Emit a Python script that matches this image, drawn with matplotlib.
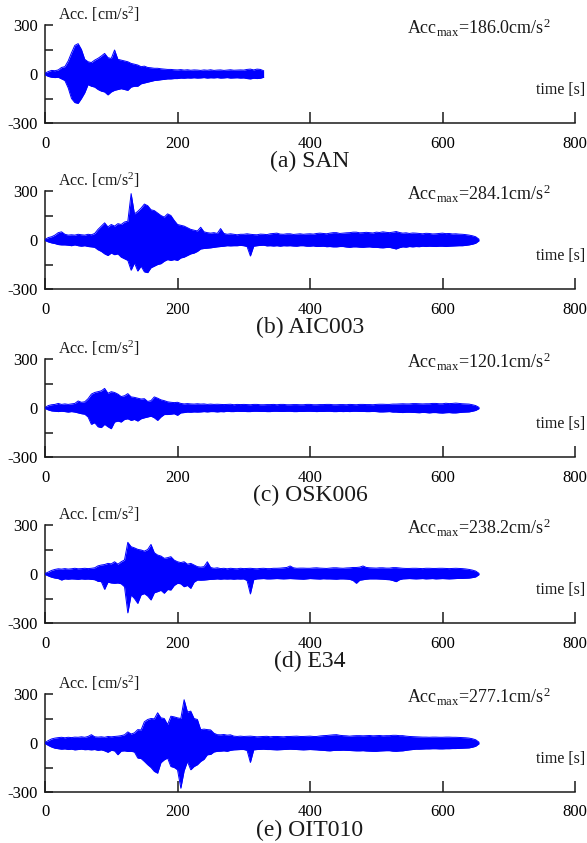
import numpy as np
import matplotlib
matplotlib.use("Agg")
import matplotlib.pyplot as plt

plt.rcParams["font.family"] = ["Liberation Serif", "DejaVu Serif"]
plt.rcParams["mathtext.fontset"] = "custom"
plt.rcParams["mathtext.rm"] = "Liberation Serif"
plt.rcParams["mathtext.it"] = "Liberation Serif:italic"
plt.rcParams["axes.unicode_minus"] = False

BLUE = "#0000ff"
INK = "#1a1a1a"

# ---- dados: picos positivos / negativos (cm/s2) a cada 5 s ----
T_SAN = np.arange(0, 331, 5)          # SAN termina em ~330 s
T_LONG = np.arange(0, 656, 5)         # demais estacoes terminam em ~655 s

SAN_UP = [5, 15, 22, 20, 25, 40, 45, 80, 130, 175,
          186, 150, 90, 75, 70, 85, 96, 110, 126, 100,
          95, 147, 90, 85, 80, 75, 65, 60, 55, 45,
          48, 40, 38, 35, 35, 32, 30, 28, 28, 26,
          25, 27, 24, 26, 23, 25, 24, 22, 25, 23,
          26, 22, 24, 25, 22, 24, 26, 23, 24, 25,
          24, 28, 30, 25, 30, 28, 20]
SAN_LO = [-5, -15, -20, -22, -20, -30, -40, -85, -150, -175,
          -180, -150, -115, -65, -75, -80, -95, -105, -110, -128,
          -110, -100, -95, -90, -95, -100, -80, -75, -75, -60,
          -55, -50, -45, -40, -38, -35, -33, -30, -30, -28,
          -28, -25, -26, -24, -25, -23, -25, -24, -22, -25,
          -23, -24, -22, -25, -24, -22, -25, -24, -23, -25,
          -24, -28, -30, -26, -28, -26, -20]

AIC_UP = [3, 15, 20, 30, 45, 50, 35, 30, 32, 30,
          35, 32, 30, 35, 32, 40, 65, 85, 105, 80,
          95, 85, 100, 95, 110, 115, 284, 160, 175, 195,
          220, 210, 185, 180, 165, 150, 140, 160, 150, 120,
          95, 90, 85, 75, 65, 60, 55, 78, 50, 45,
          42, 45, 40, 70, 40, 35, 38, 35, 32, 35,
          35, 38, 35, 33, 32, 36, 35, 33, 38, 40,
          42, 36, 35, 38, 38, 34, 36, 38, 35, 37,
          38, 36, 40, 42, 40, 38, 42, 45, 45, 40,
          42, 44, 45, 48, 48, 44, 45, 47, 45, 43,
          48, 46, 50, 47, 45, 48, 52, 46, 42, 44,
          40, 43, 42, 40, 38, 41, 40, 37, 38, 40,
          42, 39, 40, 37, 38, 36, 35, 33, 30, 26, 20, 5]
AIC_LO = [-3, -12, -18, -22, -28, -30, -30, -32, -35, -30,
          -35, -38, -35, -40, -42, -45, -60, -70, -85, -95,
          -80, -90, -85, -105, -115, -125, -185, -140, -190, -160,
          -195, -200, -170, -160, -150, -145, -130, -120, -125, -120,
          -125, -110, -105, -95, -85, -80, -70, -55, -52, -50,
          -48, -45, -42, -40, -38, -35, -36, -35, -35, -33,
          -35, -40, -98, -38, -35, -33, -32, -36, -35, -37,
          -35, -38, -35, -36, -35, -37, -38, -35, -35, -38,
          -38, -36, -40, -39, -38, -41, -40, -42, -42, -40,
          -40, -43, -45, -42, -42, -44, -45, -43, -42, -45,
          -45, -47, -48, -46, -45, -50, -55, -47, -42, -44,
          -40, -42, -40, -41, -38, -40, -38, -39, -40, -38,
          -38, -40, -38, -37, -36, -35, -35, -33, -30, -26, -20, -5]

OSK_UP = [3, 15, 20, 22, 28, 22, 25, 22, 25, 28,
          43, 35, 38, 57, 85, 95, 100, 105, 120, 90,
          100, 95, 85, 70, 75, 88, 68, 65, 60, 55,
          57, 40, 45, 68, 60, 50, 45, 38, 35, 33,
          35, 28, 25, 27, 25, 24, 26, 24, 25, 22,
          24, 22, 23, 22, 21, 22, 23, 20, 22, 21,
          22, 21, 20, 22, 22, 20, 20, 21, 21, 22,
          20, 22, 22, 20, 20, 21, 21, 20, 20, 22,
          22, 20, 20, 21, 21, 22, 22, 20, 20, 21,
          21, 20, 22, 21, 20, 22, 22, 21, 21, 20,
          22, 23, 23, 22, 22, 24, 24, 25, 26, 25,
          25, 27, 27, 26, 25, 26, 26, 28, 28, 26,
          26, 29, 27, 28, 30, 28, 26, 25, 24, 20, 15, 4]
OSK_LO = [-3, -12, -18, -20, -22, -20, -22, -25, -22, -25,
          -30, -35, -38, -55, -100, -90, -115, -120, -100, -115,
          -127, -86, -80, -86, -70, -66, -76, -70, -80, -66,
          -60, -55, -50, -60, -76, -55, -40, -40, -38, -35,
          -45, -30, -28, -25, -26, -24, -25, -24, -22, -24,
          -22, -22, -24, -22, -23, -20, -22, -22, -20, -21,
          -21, -22, -22, -20, -20, -21, -21, -22, -22, -20,
          -20, -21, -21, -20, -20, -22, -22, -21, -21, -20,
          -20, -21, -22, -21, -21, -20, -20, -22, -22, -21,
          -22, -21, -22, -20, -20, -21, -21, -22, -22, -21,
          -22, -24, -24, -23, -22, -25, -25, -27, -28, -26,
          -26, -27, -28, -29, -27, -28, -30, -28, -28, -30,
          -31, -29, -28, -30, -30, -28, -26, -25, -24, -20, -15, -4]

E34_UP = [3, 12, 22, 28, 32, 30, 33, 30, 32, 35,
          32, 33, 35, 33, 35, 38, 50, 55, 58, 65,
          62, 75, 60, 75, 86, 194, 167, 160, 151, 147,
          140, 150, 181, 130, 116, 110, 96, 100, 106, 85,
          75, 70, 75, 60, 65, 55, 45, 42, 45, 75,
          40, 35, 38, 33, 35, 32, 35, 33, 32, 35,
          33, 34, 35, 33, 32, 34, 35, 33, 33, 35,
          35, 36, 38, 40, 49, 38, 35, 36, 36, 35,
          35, 37, 38, 36, 35, 34, 36, 38, 38, 36,
          35, 37, 38, 40, 40, 42, 49, 40, 38, 37,
          36, 38, 38, 36, 36, 39, 39, 37, 35, 34,
          34, 35, 35, 34, 33, 35, 35, 34, 34, 35,
          35, 34, 33, 34, 35, 34, 33, 31, 28, 24, 18, 4]
E34_LO = [-3, -12, -20, -25, -28, -37, -30, -32, -30, -31,
          -33, -30, -32, -31, -33, -35, -45, -47, -94, -50,
          -55, -57, -55, -60, -78, -238, -128, -150, -180, -128,
          -120, -135, -159, -115, -108, -100, -118, -95, -98, -70,
          -57, -60, -78, -70, -88, -50, -37, -38, -37, -35,
          -33, -32, -30, -32, -30, -31, -30, -32, -30, -31,
          -30, -40, -122, -35, -30, -29, -28, -30, -30, -29,
          -28, -29, -30, -29, -28, -29, -30, -31, -32, -30,
          -28, -29, -30, -31, -29, -30, -30, -31, -32, -30,
          -30, -31, -33, -40, -57, -38, -35, -32, -30, -30,
          -30, -31, -32, -34, -35, -40, -47, -35, -30, -29,
          -28, -29, -30, -29, -28, -30, -29, -28, -30, -29,
          -28, -29, -30, -29, -28, -27, -27, -26, -25, -22, -18, -4]

OIT_UP = [3, 15, 25, 30, 33, 35, 32, 35, 33, 36,
          35, 38, 35, 40, 51, 38, 36, 38, 35, 40,
          38, 40, 42, 45, 50, 68, 55, 62, 82, 80,
          130, 144, 150, 148, 185, 154, 150, 113, 164, 160,
          154, 150, 265, 190, 195, 150, 144, 82, 85, 82,
          80, 60, 51, 50, 52, 48, 50, 42, 40, 42,
          40, 41, 42, 40, 38, 39, 40, 41, 38, 40,
          40, 39, 38, 40, 40, 41, 42, 40, 40, 41,
          42, 40, 40, 43, 45, 46, 48, 50, 51, 47,
          45, 44, 42, 44, 45, 45, 44, 45, 46, 44,
          45, 46, 44, 45, 45, 47, 47, 45, 45, 42,
          40, 39, 38, 37, 36, 36, 35, 36, 36, 35,
          35, 36, 36, 35, 35, 34, 33, 32, 30, 26, 20, 5]
OIT_LO = [-3, -15, -25, -32, -35, -38, -36, -40, -38, -42,
          -40, -38, -41, -40, -42, -40, -45, -42, -48, -57,
          -45, -48, -72, -50, -48, -52, -51, -55, -92, -95,
          -113, -133, -150, -174, -185, -120, -103, -92, -144, -150,
          -164, -277, -170, -113, -164, -144, -133, -113, -100, -72,
          -70, -55, -51, -50, -48, -51, -45, -42, -41, -40,
          -40, -45, -119, -42, -40, -39, -38, -40, -40, -41,
          -42, -41, -40, -39, -38, -39, -40, -41, -42, -41,
          -40, -41, -42, -44, -45, -47, -48, -46, -45, -45,
          -44, -45, -46, -47, -48, -48, -47, -49, -50, -51,
          -51, -49, -48, -47, -47, -50, -51, -49, -48, -45,
          -42, -40, -38, -38, -37, -36, -36, -35, -35, -36,
          -36, -35, -35, -34, -34, -33, -32, -31, -30, -26, -20, -5]

LABELS = ["(a) SAN", "(b) AIC003", "(c) OSK006", "(d) E34", "(e) OIT010"]
ACC_MAX = ["186.0", "284.1", "120.1", "238.2", "277.1"]

X_TICKS = [0, 200, 400, 600, 800]
Y_TICKS = [-300, 0, 300]
Y_MINOR = [-150, 150]

# geometria em pixels (figura 587 x 843)
FIG_W, FIG_H = 587, 843
AX_LEFT, AX_W, AX_H = 45, 530, 98
AX_TOPS = [25, 191, 359, 525, 694]


def style_axes(ax: plt.Axes) -> None:
    ax.set_xlim(0, 800)
    ax.set_ylim(-300, 300)
    for side in ("top", "right"):
        ax.spines[side].set_visible(False)
    for side in ("left", "bottom"):
        ax.spines[side].set_linewidth(1.1)
        ax.spines[side].set_color(INK)
    ax.set_xticks(X_TICKS)
    ax.set_yticks(Y_TICKS)
    ax.set_yticks(Y_MINOR, minor=True)
    ax.tick_params(axis="x", direction="in", length=8, width=1.1, pad=9,
                   labelsize=12, color=INK)
    ax.tick_params(axis="y", which="both", direction="in", length=6, width=1.1,
                   pad=5, labelsize=12, color=INK)
    ax.patch.set_alpha(0)


def draw_record(ax, t, up, lo, label, acc_max):
    ax.fill_between(t, lo, up, color=BLUE, linewidth=0, zorder=3)
    ax.plot(t, up, color=BLUE, linewidth=0.7, zorder=3)
    ax.plot(t, lo, color=BLUE, linewidth=0.7, zorder=3)

    style_axes(ax)

    ax.text(0.0245, 1.112, r"Acc. [cm/s$^{2}$]", transform=ax.transAxes,
            ha="left", va="center", fontsize=11.5, color=INK)
    ax.text(1.019, 0.337, "time [s]", transform=ax.transAxes,
            ha="right", va="center", fontsize=11.5, color=INK)
    ax.text(0.683, 0.965, r"Acc$_{\mathrm{max}}$=" + acc_max + r"cm/s$^{2}$",
            transform=ax.transAxes, ha="left", va="center", fontsize=13, color=INK)
    ax.text(0.5, -0.388, label, transform=ax.transAxes,
            ha="center", va="center", fontsize=17, color=INK)


def main() -> None:
    fig = plt.figure(figsize=(FIG_W / 100, FIG_H / 100), dpi=100, facecolor="white")

    records = [
        (T_SAN, SAN_UP, SAN_LO),
        (T_LONG, AIC_UP, AIC_LO),
        (T_LONG, OSK_UP, OSK_LO),
        (T_LONG, E34_UP, E34_LO),
        (T_LONG, OIT_UP, OIT_LO),
    ]

    for (t, up, lo), top, label, acc in zip(records, AX_TOPS, LABELS, ACC_MAX):
        rect = [AX_LEFT / FIG_W, 1 - (top + AX_H) / FIG_H, AX_W / FIG_W, AX_H / FIG_H]
        ax = fig.add_axes(rect)
        draw_record(ax, t, up, lo, label, acc)

    fig.savefig("out.png", dpi=100, facecolor="white")
    plt.close(fig)


if __name__ == "__main__":
    main()
